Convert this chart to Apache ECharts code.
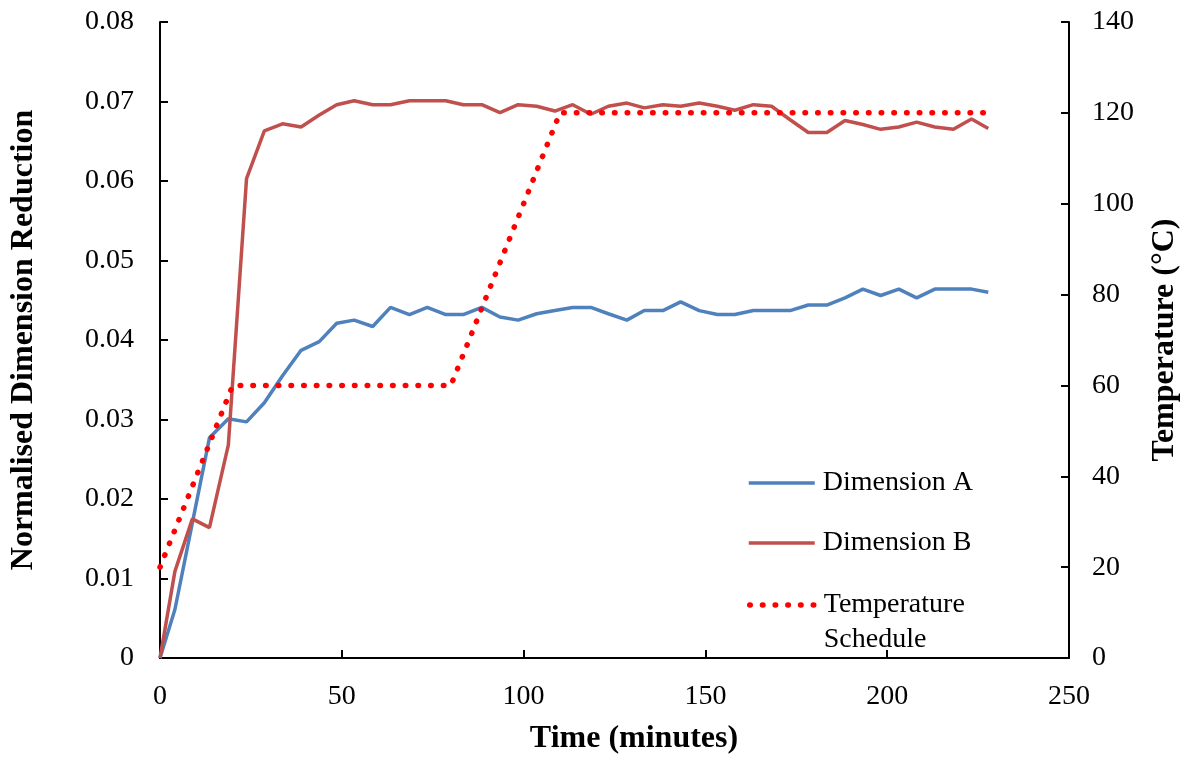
<!DOCTYPE html>
<html>
<head>
<meta charset="utf-8">
<script src="https://cdn.jsdelivr.net/npm/echarts@6/dist/echarts.min.js"></script>
<style>
html,body{margin:0;padding:0;background:#fff;}
#chart{width:1189px;height:760px;}
</style>
</head>
<body>
<div id="chart"></div>
<script>
const times = [0, 4.1, 8.9, 13.6, 18.8, 23.8, 28.7, 33.7, 38.8, 43.8, 48.6, 53.4, 58.5, 63.4, 68.6, 73.5, 78.6, 83.4, 88.5, 93.5, 98.5, 103.6, 108.6, 113.5, 118.5, 123.3, 128.4, 133.2, 138.3, 143.2, 148.3, 153.3, 158.1, 163.2, 168.2, 173.3, 178.3, 183.4, 188.4, 193.3, 198.2, 203.2, 208.1, 213.1, 218.2, 223.2, 227.8];
const dimA = [0, 0.0061, 0.0170, 0.0277, 0.0301, 0.0297, 0.0321, 0.0355, 0.0387, 0.0398, 0.0421, 0.0425, 0.0417, 0.0441, 0.0432, 0.0441, 0.0432, 0.0432, 0.0441, 0.0429, 0.0425, 0.0433, 0.0437, 0.0441, 0.0441, 0.0433, 0.0425, 0.0437, 0.0437, 0.0448, 0.0437, 0.0432, 0.0432, 0.0437, 0.0437, 0.0437, 0.0444, 0.0444, 0.0453, 0.0464, 0.0456, 0.0464, 0.0453, 0.0464, 0.0464, 0.0464, 0.0460];
const dimB = [0, 0.0109, 0.0175, 0.0164, 0.0268, 0.0603, 0.0663, 0.0672, 0.0668, 0.0683, 0.0696, 0.0701, 0.0696, 0.0696, 0.0701, 0.0701, 0.0701, 0.0696, 0.0696, 0.0686, 0.0696, 0.0694, 0.0688, 0.0696, 0.0684, 0.0694, 0.0698, 0.0692, 0.0696, 0.0694, 0.0698, 0.0694, 0.0689, 0.0696, 0.0694, 0.0677, 0.0661, 0.0661, 0.0676, 0.0671, 0.0665, 0.0668, 0.0674, 0.0668, 0.0665, 0.0678, 0.0666];
const tempTimes = [0, 20, 80, 110, 228];
const tempValues = [20, 60, 60, 120, 120];
const seriesNames = ['Dimension A', 'Dimension B', 'Temperature\nSchedule'];

const FONT = '"Liberation Serif", "Times New Roman", serif';
const pair = (xs, ys) => xs.map((x, i) => [x, ys[i]]);

const axisLine = { show: true, lineStyle: { color: '#000', width: 2 } };
const axisTick = { show: true, inside: true, length: 8, lineStyle: { color: '#000', width: 2 } };
const labelStyle = { color: '#000', fontFamily: FONT, fontSize: 28 };
const nameStyle = { color: '#000', fontFamily: FONT, fontSize: 32, fontWeight: 'bold' };
const dotted = [0.5, 12.2];

const chart = echarts.init(document.getElementById('chart'), null, { renderer: 'canvas' });
chart.setOption({
  backgroundColor: '#fff',
  animation: false,
  textStyle: { fontFamily: FONT },
  grid: { left: 160, right: 120, top: 22, bottom: 100, containLabel: false },
  legend: [
    {
      data: [seriesNames[0], seriesNames[1]],
      orient: 'vertical', left: 747, top: 465.5, padding: 0,
      itemWidth: 66, itemHeight: 14, itemGap: 25,
      itemStyle: { opacity: 0 },
      lineStyle: { width: 3.5 },
      textStyle: { color: '#000', fontFamily: FONT, fontSize: 28, lineHeight: 35, padding: [0, 0, 0, 3] }
    },
    {
      data: [seriesNames[2]],
      orient: 'vertical', left: 747, top: 552.5, padding: 0,
      itemWidth: 66, itemHeight: 14,
      itemStyle: { opacity: 0 },
      formatter: name => '\u00a0\n' + name,
      lineStyle: { width: 5.5, type: dotted, cap: 'round' },
      textStyle: { color: '#000', fontFamily: FONT, fontSize: 28, lineHeight: 35, padding: [0, 0, 0, 3] }
    }
  ],
  xAxis: {
    type: 'value', min: 0, max: 250, interval: 50,
    name: 'Time (minutes)', nameLocation: 'middle', nameGap: 65,
    nameTextStyle: Object.assign({}, nameStyle, { padding: [0, 0, 0, 39] }),
    axisLine, axisTick,
    axisLabel: Object.assign({}, labelStyle, { margin: 25 }),
    splitLine: { show: false }
  },
  yAxis: [
    {
      type: 'value', min: 0, max: 0.08, interval: 0.01, position: 'left',
      name: 'Normalised Dimension Reduction', nameLocation: 'middle', nameGap: 120,
      nameTextStyle: nameStyle,
      axisLine, axisTick,
      axisLabel: Object.assign({}, labelStyle, { margin: 26, formatter: v => v === 0 ? '0' : v.toFixed(2) }),
      splitLine: { show: false }
    },
    {
      type: 'value', min: 0, max: 140, interval: 20, position: 'right',
      name: 'Temperature (°C)', nameLocation: 'middle', nameGap: 80,
      nameTextStyle: nameStyle,
      axisLine, axisTick,
      axisLabel: Object.assign({}, labelStyle, { margin: 23 }),
      splitLine: { show: false }
    }
  ],
  series: [
    {
      name: seriesNames[0], type: 'line', yAxisIndex: 0, data: pair(times, dimA),
      symbol: 'none', color: '#4F81BD', lineStyle: { color: '#4F81BD', width: 3.5 }, z: 3
    },
    {
      name: seriesNames[1], type: 'line', yAxisIndex: 0, data: pair(times, dimB),
      symbol: 'none', color: '#C0504D', lineStyle: { color: '#C0504D', width: 3.5 }, z: 3
    },
    {
      name: seriesNames[2], type: 'line', yAxisIndex: 1, data: pair(tempTimes, tempValues),
      symbol: 'none', color: '#FF0000', lineStyle: { color: '#FF0000', width: 5.5, type: dotted, cap: 'round' }, z: 4
    }
  ]
});
</script>
</body>
</html>
